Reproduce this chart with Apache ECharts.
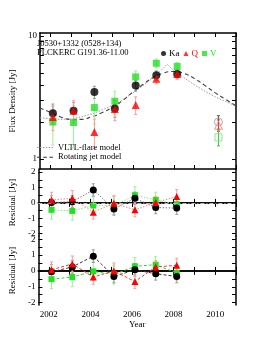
<!DOCTYPE html>
<html><head><meta charset="utf-8">
<script src="https://cdn.jsdelivr.net/npm/echarts@6/dist/echarts.min.js"></script>
<style>html,body{margin:0;padding:0;background:#fff}#c{width:262px;height:339px}</style>
</head><body><div id="c"></div>
<script>
// ---- data ----
const years = [2002.13, 2003.13, 2004.14, 2005.13, 2006.14, 2007.14, 2008.15];
const kaFlux = [2.35, 2.47, 3.5, 2.57, 3.95, 4.8, 4.9];
const qFlux = [2.2, 2.47, 1.66, 2.55, 2.75, 4.5, 4.9];
const vFlux = [2.0, 1.98, 2.62, 2.95, 4.65, 6.0, 5.65];
const kaErr = [0.45, 0.4, 0.4, 0.4, 0.4, 0.4, 0.4];
const qErr = [0.5, 0.5, 0.45, 0.5, 0.45, 0.4, 0.45];
const vErr = [0.7, 0.75, 0.7, 0.6, 0.55, 0.5, 0.45];

const planckYear = [2010.15];
const planckKa = [2.0], planckKaErr = [0.25];
const planckQ = [1.88], planckQErr = [0.2];
const planckV = [1.5], planckVErr = [0.22];

const vltlYears = [2001.5, 2002.0, 2002.5, 2003.0, 2003.5, 2004.0, 2004.5, 2005.0, 2005.5, 2006.0, 2006.5, 2007.0, 2007.4, 2007.67, 2008.0, 2008.5, 2009.0, 2009.5, 2010.0, 2010.5, 2011.0];
const vltlFlux = [2.17, 2.12, 2.1, 2.12, 2.2, 2.32, 2.5, 2.72, 3.02, 3.45, 3.95, 4.6, 5.3, 5.9, 5.2, 4.55, 4.0, 3.55, 3.2, 2.93, 2.7];
const jetYears = [2001.5, 2002.0, 2002.5, 2003.0, 2003.5, 2004.0, 2004.5, 2005.0, 2005.5, 2006.0, 2006.5, 2007.0, 2007.5, 2008.0, 2008.5, 2009.0, 2009.5, 2010.0, 2010.5, 2011.0];
const jetFlux = [2.6, 2.4, 2.2, 2.1, 2.1, 2.2, 2.38, 2.62, 2.98, 3.5, 4.05, 4.6, 5.0, 5.15, 4.95, 4.5, 3.95, 3.45, 3.05, 2.7];

const resVltlKa = [0.02, 0.08, 0.84, -0.39, 0.30, -0.30, -0.34];
const resVltlQ = [0.19, 0.30, -0.60, -0.03, -0.45, 0.02, 0.41];
const resVltlV = [-0.45, -0.52, -0.17, -0.19, 0.50, 0.19, -0.09];
const resJetKa = [-0.06, 0.25, 0.93, -0.35, 0.07, -0.18, -0.35];
const resJetQ = [0.07, 0.44, -0.39, 0.0, -0.67, 0.25, 0.35];
const resJetV = [-0.52, -0.39, -0.03, -0.23, 0.29, 0.39, -0.13];

const yearTicks = [2002, 2003, 2004, 2005, 2006, 2007, 2008, 2009, 2010, 2011];
const yearLabels = [2002, 2004, 2006, 2008, 2010];
const fluxTicks = [1, 2, 3, 4, 5, 6, 7, 8, 9, 10];
const fluxLabels = [1, 10];
const resTicks = [-2, -1.5, -1, -0.5, 0, 0.5, 1, 1.5, 2];
const resLabels = [-2, -1, 0, 1, 2];

// ---- styles ----
const FONT = 'Liberation Serif';
const C = {ka: '#000000', q: '#ff0000', v: '#22e022'};
const CE = {ka: '#999999', q: '#ff9a9a', v: '#9af09a'};
const DOT_ICON = 'path://' + Array.from({length: 6}, (_, i) => 'M' + (i * 3) + ',0h1.5v1h-1.5z').join(' ');
const DASH_ICON = 'path://' + Array.from({length: 3}, (_, i) => 'M' + (i * 6) + ',0h3.5v1h-3.5z').join(' ');

const grids = [
  {left: 27, right: 26, top: 33, height: 136},
  {left: 27, right: 26, top: 169, height: 67},
  {left: 27, right: 26, top: 236, height: 69}
];
const lineSty = {show: true, lineStyle: {color: '#000', width: 1.5}};
const xAxes = [], yAxes = [];
grids.forEach((g, gi) => {
  const base = {type: 'value', gridIndex: gi, min: 2001.5, max: 2011, splitLine: {show: false}, axisLine: lineSty,
    axisTick: {inside: true, length: 4, customValues: yearTicks, lineStyle: {color: '#000'}}};
  xAxes.push(Object.assign({}, base, {position: 'bottom',
    axisLabel: gi === 2 ? {show: true, customValues: yearLabels, formatter: v => String(v), fontFamily: FONT, fontSize: 9, color: '#000', margin: 5} : {show: false},
    name: gi === 2 ? 'Year' : '', nameLocation: 'middle', nameGap: 14, nameTextStyle: {fontFamily: FONT, fontSize: 9, color: '#000'}}));
  xAxes.push(Object.assign({}, base, {position: 'top', axisLabel: {show: false}}));
  let yb;
  if (gi === 0) {
    yb = {type: 'log', logBase: 10, gridIndex: gi, min: 0.83, max: 10.57, splitLine: {show: false}, axisLine: lineSty,
      axisTick: {inside: true, length: 4, customValues: fluxTicks, lineStyle: {color: '#000'}}};
    yAxes.push(Object.assign({}, yb, {position: 'left',
      axisLabel: {show: true, customValues: fluxLabels, fontFamily: FONT, fontSize: 9, color: '#000', margin: 3},
      name: 'Flux Density [Jy]', nameLocation: 'middle', nameGap: 12, nameTextStyle: {fontFamily: FONT, fontSize: 9, color: '#000'}}));
  } else {
    yb = {type: 'value', gridIndex: gi, min: -2.15, max: 2.2, splitLine: {show: false}, axisLine: lineSty,
      axisTick: {inside: true, length: 4, customValues: resTicks, lineStyle: {color: '#000'}}};
    yAxes.push(Object.assign({}, yb, {position: 'left',
      axisLabel: {show: true, customValues: resLabels, fontFamily: FONT, fontSize: 9, color: '#000', margin: 3},
      name: 'Residual [Jy]', nameLocation: 'middle', nameGap: 12, nameTextStyle: {fontFamily: FONT, fontSize: 9, color: '#000'}}));
  }
  yAxes.push(Object.assign({}, yb, {position: 'right', axisLabel: {show: false}}));
});

function errBars(xs, ys, es, color, gi, z) {
  return {
    type: 'custom', xAxisIndex: 2 * gi, yAxisIndex: 2 * gi, z: z || 2, silent: true,
    data: xs.map((x, i) => [x, ys[i] - es[i], ys[i] + es[i]]),
    encode: {x: 0, y: [1, 2]},
    renderItem: (params, api) => {
      const p1 = api.coord([api.value(0), api.value(1)]);
      const p2 = api.coord([api.value(0), api.value(2)]);
      const w = 1.5;
      const st = {stroke: color, lineWidth: 1};
      return {type: 'group', children: [
        {type: 'line', shape: {x1: p1[0], y1: p1[1], x2: p2[0], y2: p2[1]}, style: st},
        {type: 'line', shape: {x1: p1[0] - w, y1: p1[1], x2: p1[0] + w, y2: p1[1]}, style: st},
        {type: 'line', shape: {x1: p2[0] - w, y1: p2[1], x2: p2[0] + w, y2: p2[1]}, style: st}
      ]};
    }
  };
}
function pts(name, xs, ys, symbol, size, color, gi, z, line) {
  const s = {
    name: name, type: line ? 'line' : 'scatter', xAxisIndex: 2 * gi, yAxisIndex: 2 * gi, z: z,
    data: xs.map((x, i) => [x, ys[i]]), symbol: symbol, symbolSize: size,
    itemStyle: {color: color}, silent: true
  };
  if (line) { s.lineStyle = line; s.showSymbol = true; }
  return s;
}
const combos = [
  ['V', vFlux, vErr, 'rect', 7, 'v', 3],
  ['Ka', kaFlux, kaErr, 'circle', 8, 'ka', 4],
  ['Q', qFlux, qErr, 'triangle', 8, 'q', 5]
];
const series = [];
// models
series.push({name: 'VLTL-flare model', type: 'line', xAxisIndex: 0, yAxisIndex: 0, data: vltlYears.map((x, i) => [x, vltlFlux[i]]),
  symbol: 'none', smooth: false, lineStyle: {color: '#9a9a9a', width: 1, type: [1.5, 1.5]}, itemStyle: {color: '#9a9a9a'}, z: 1, silent: true});
series.push({name: 'Rotating jet model', type: 'line', xAxisIndex: 0, yAxisIndex: 0, data: jetYears.map((x, i) => [x, jetFlux[i]]),
  symbol: 'none', smooth: true, lineStyle: {color: '#444', width: 1.1, type: [4, 3]}, itemStyle: {color: '#444'}, z: 1, silent: true});
combos.forEach(c => {
  series.push(errBars(years, c[1], c[2], CE[c[5]], 0, 2));
  series.push(pts(c[0], years, c[1], c[3], c[4], C[c[5]], 0, c[6]));
});
// Planck hollow points
series.push(errBars(planckYear, planckKa, planckKaErr, '#555', 0, 2));
series.push(errBars(planckYear, planckQ, planckQErr, '#e33', 0, 2));
series.push(errBars(planckYear, planckV, planckVErr, '#3c3', 0, 2));
[[planckKa, 'circle', 8, '#999'], [planckQ, 'triangle', 8, '#f77'], [planckV, 'rect', 7, '#7d7']].forEach(p => {
  series.push({type: 'scatter', xAxisIndex: 0, yAxisIndex: 0, data: planckYear.map((x, i) => [x, p[0][i]]), symbol: p[1], symbolSize: p[2],
    itemStyle: {color: 'rgba(0,0,0,0)', borderColor: p[3], borderWidth: 1}, z: 3, silent: true});
});
// residuals
const resSets = [
  [1, {ka: resVltlKa, q: resVltlQ, v: resVltlV}, {type: [1.5, 1.5], width: 1}, {ka: '#777', q: '#ff8080', v: '#80ee80'}],
  [2, {ka: resJetKa, q: resJetQ, v: resJetV}, {type: [3, 2], width: 1}, {ka: '#333', q: '#ff3030', v: '#30dd30'}]
];
resSets.forEach(rs => {
  const gi = rs[0];
  combos.forEach(c => {
    const k = c[5];
    series.push(errBars(years, rs[1][k], c[2].map(e => Math.min(e, 0.6)), CE[k], gi, 2));
    series.push(pts(c[0], years, rs[1][k], c[3], c[4] - 1, C[k], gi, c[6], {color: rs[3][k], width: rs[2].width, type: rs[2].type}));
  });
});
series.push({type: 'line', xAxisIndex: 2, yAxisIndex: 2, data: [], silent: true,
  markLine: {silent: true, symbol: 'none', label: {show: false}, lineStyle: {color: '#bbb', type: [4, 2, 1, 2], width: 1}, data: [{yAxis: 0}]}});

const option = {
  animation: false,
  grid: grids,
  xAxis: xAxes,
  yAxis: yAxes,
  legend: [
    {data: [{name: 'Ka', icon: 'circle', textStyle: {color: C.ka}}, {name: 'Q', icon: 'triangle', textStyle: {color: C.q}}, {name: 'V', icon: 'rect', textStyle: {color: C.v}}],
      left: 156, top: 44, itemWidth: 5, itemHeight: 5, itemGap: 4, selectedMode: false,
      textStyle: {fontFamily: FONT, fontSize: 9, padding: [0, 0, 0, -2]}},
    {data: [{name: 'VLTL-flare model', icon: DOT_ICON, itemStyle: {color: '#9a9a9a'}}, {name: 'Rotating jet model', icon: DASH_ICON, itemStyle: {color: '#333'}}],
      orient: 'vertical', left: 37, top: 143, padding: 0, itemWidth: 16, itemHeight: 1.2, itemGap: 0.7,
      selectedMode: false, textStyle: {fontFamily: FONT, fontSize: 8.5, color: '#000', lineHeight: 8}}
  ],
  graphic: [
    {type: 'text', left: 37, top: 39, style: {text: 'J0530+1332 (0528+134)\nPLCKERC G191.36-11.00', fontFamily: FONT, fontSize: 8.5, lineHeight: 9.5, fill: '#000'}}
  ],
  series: series
};
const chart = echarts.init(document.getElementById('c'), null, {renderer: 'canvas'});
chart.setOption(option);
</script></body></html>
